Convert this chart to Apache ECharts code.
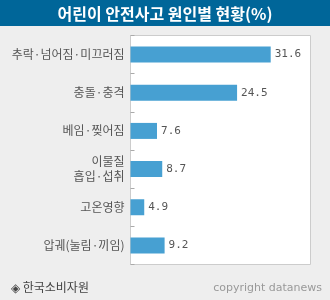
<!DOCTYPE html>
<html><head><meta charset="utf-8">
<script src="https://cdn.jsdelivr.net/npm/echarts@6/dist/echarts.min.js"></script>
<style>html,body{margin:0;padding:0;background:#eeeeee}#c{width:330px;height:300px}</style>
</head><body><div id="c"></div>
<script>
const titleText = '어린이 안전사고 원인별 현황(%)';
const categories = ['추락·넘어짐·미끄러짐', '충돌·충격', '베임·찢어짐', '이물질\n흡입·섭취', '고온영향', '압궤(눌림·끼임)'];
const values = [31.6, 24.5, 7.6, 8.7, 4.9, 9.2];
const sourceText = '◈ 한국소비자원';
const copyrightText = 'copyright datanews';

const chart = echarts.init(document.getElementById('c'), null, {renderer: 'canvas'});
chart.setOption({
  backgroundColor: '#eeeeee',
  animation: false,
  graphic: [
    {type: 'rect', left: 0, top: 0, shape: {width: 330, height: 26}, style: {fill: '#006699'}, z: 0},
    {type: 'text', x: 165, y: 13.5, style: {text: titleText, fill: '#ffffff', font: 'bold 16px "Noto Sans CJK KR"', textAlign: 'center', textVerticalAlign: 'middle'}},
    {type: 'text', x: 11, y: 287, style: {text: sourceText, fill: '#444444', font: '12px "Noto Sans CJK KR"', textAlign: 'left', textVerticalAlign: 'middle'}},
    {type: 'text', x: 322, y: 288, style: {text: copyrightText, fill: '#999999', font: '11px "DejaVu Sans"', textAlign: 'right', textVerticalAlign: 'middle'}}
  ],
  grid: {left: 130.5, top: 35.5, width: 180, height: 229, show: true, backgroundColor: '#ffffff', borderColor: '#cccccc', borderWidth: 1, containLabel: false},
  xAxis: {type: 'value', min: 2, max: 40, show: false},
  yAxis: {
    type: 'category', data: categories, inverse: true,
    axisLine: {show: false},
    axisTick: {show: true, inside: true, length: 4, lineStyle: {color: '#aaaaaa'}},
    axisLabel: {color: '#555555', fontSize: 12, fontFamily: '"Noto Sans CJK KR"', margin: 6, lineHeight: 15}
  },
  series: [{
    type: 'bar', data: values, barWidth: 16, clip: true,
    itemStyle: {color: '#47a0d2'},
    label: {show: true, position: 'right', distance: 4, color: '#555555', fontSize: 11, fontFamily: '"DejaVu Sans Mono"'}
  }]
});
</script></body></html>
